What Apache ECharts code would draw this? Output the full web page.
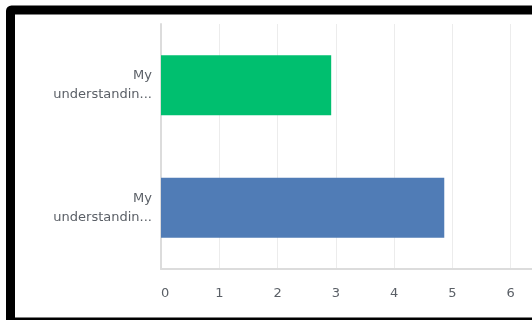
<!DOCTYPE html>
<html>
<head>
<meta charset="utf-8">
<style>
  html, body { margin: 0; padding: 0; background: #fff; }
  #chart { width: 532px; height: 320px; }
</style>
<script src="https://cdn.jsdelivr.net/npm/echarts@6/dist/echarts.min.js"></script>
</head>
<body>
<div id="chart"></div>
<script>
// Question labels (shown truncated) and their average scores
const categories = ['q1', 'q2'];
const categoryLabels = ['My\nunderstandin...', 'My\nunderstandin...'];
const values = [2.92, 4.86];
const barColors = ['#00BF6F', '#507CB6'];
const xTicks = [0, 1, 2, 3, 4, 5, 6, 7];

const chart = echarts.init(document.getElementById('chart'), null, { renderer: 'canvas' });

chart.setOption({
  animation: false,
  backgroundColor: '#ffffff',
  grid: {
    left: 161, top: 24, width: 408, height: 245,
    containLabel: false,
    outerBoundsMode: 'none'
  },
  xAxis: {
    type: 'value',
    min: xTicks[0],
    max: xTicks[xTicks.length - 1],
    interval: 1,
    axisLine: { show: true, lineStyle: { color: '#dcdcdc', width: 2 } },
    axisTick: { show: false },
    splitLine: { show: true, lineStyle: { color: '#ececec', width: 1 } },
    axisLabel: {
      color: '#5a5f66',
      fontFamily: 'DejaVu Sans',
      fontSize: 13,
      margin: 18,
      alignMinLabel: 'left'
    }
  },
  yAxis: {
    type: 'category',
    data: categories,
    inverse: true,
    axisLine: { show: true, lineStyle: { color: '#dcdcdc', width: 2 } },
    axisTick: { show: false },
    splitLine: { show: false },
    axisLabel: {
      color: '#5a5f66',
      fontFamily: 'DejaVu Sans',
      fontSize: 13,
      lineHeight: 19,
      align: 'right',
      margin: 9,
      formatter: (value, index) => categoryLabels[index]
    }
  },
  series: [{
    type: 'bar',
    barWidth: 60,
    data: values.map((v, i) => ({ value: v, itemStyle: { color: barColors[i] } })),
    itemStyle: { borderWidth: 0 }
  }],
  graphic: [{
    type: 'rect',
    z: 100,
    silent: true,
    shape: { x: 10.5, y: 10, width: 700, height: 312, r: 1 },
    style: { fill: 'none', stroke: '#000000', lineWidth: 9 }
  }]
});
</script>
</body>
</html>
